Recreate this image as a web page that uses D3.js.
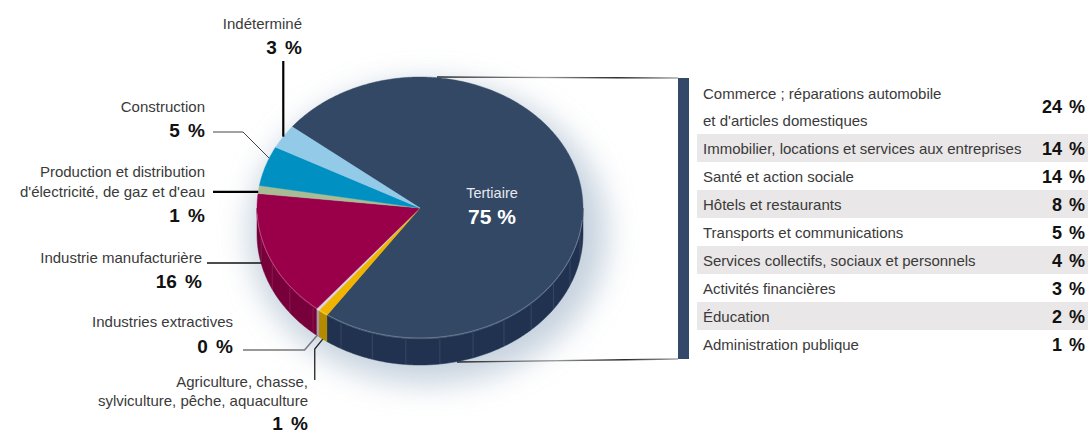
<!DOCTYPE html>
<html lang="fr">
<head>
<meta charset="utf-8">
<script src="https://cdn.jsdelivr.net/npm/d3@7/dist/d3.min.js"></script>
<style>
  html, body { margin: 0; padding: 0; background: #ffffff; }
  svg { display: block; font-family: "Liberation Sans", Arial, Helvetica, sans-serif; }
</style>
</head>
<body>
<svg id="chart" width="1088" height="433"></svg>
<script>
// Répartition des emplois par secteur d'activité
const sectors = [
  "Tertiaire",
  "Agriculture, chasse, sylviculture, pêche, aquaculture",
  "Industries extractives",
  "Industrie manufacturière",
  "Production et distribution d'électricité, de gaz et d'eau",
  "Construction",
  "Indéterminé"
];
const sectorValues = [75, 1, 0.3, 16, 1, 5, 3];

// Détail du secteur tertiaire
const tertiaryCats = [
  "Commerce ; réparations automobile|et d'articles domestiques",
  "Immobilier, locations et services aux entreprises",
  "Santé et action sociale",
  "Hôtels et restaurants",
  "Transports et communications",
  "Services collectifs, sociaux et personnels",
  "Activités financières",
  "Éducation",
  "Administration publique"
];
const tertiaryValues = [24, 14, 14, 8, 5, 4, 3, 2, 1];

const pct = v => Math.round(v) + " %";

const topColors  = ["#334865", "#f1b500", "#d9d5dd", "#990049", "#a8bd95", "#0091c2", "#92cae8"];
const sideColors = ["#213250", "#b38a00", "#a99bab", "#78003a", "#889f72", "#00739a", "#6fa9c7"];

const svg = d3.select("#chart");
const cx = 420, cy = 208, rx = 163, ry = 131, depth = 26;

const pie = d3.pie().sort(null).value(d => d)
  .startAngle(-0.902).endAngle(-0.902 + 2 * Math.PI);
const arcs = pie(sectorValues);

// angle measured clockwise from twelve o'clock, projected onto the tilted disc
const pt = (a, dy = 0) => [cx + rx * Math.sin(a), cy - ry * Math.cos(a) + dy];
const sample = (a0, a1, dy = 0) => {
  const n = Math.max(2, Math.ceil(Math.abs(a1 - a0) / 0.01));
  return d3.range(n + 1).map(i => pt(a0 + (a1 - a0) * i / n, dy));
};
const line = d3.line();

// soft halo under the disc
const defs = svg.append("defs");
defs.append("filter").attr("id", "halo").attr("x", "-30%").attr("y", "-30%")
  .attr("width", "160%").attr("height", "160%")
  .append("feGaussianBlur").attr("stdDeviation", 15);
svg.append("ellipse")
  .attr("cx", cx + 8).attr("cy", cy + depth / 2 + 12)
  .attr("rx", rx + 16).attr("ry", ry + 20)
  .attr("fill", "#aebfd0").attr("opacity", 0.7)
  .attr("filter", "url(#halo)");

// bracket linking the tertiary slice to its breakdown
const barX = 678, barW = 11, barTop = 78, barBottom = 359;
const bracketGrad = defs.append("linearGradient").attr("id", "bracketGrad")
  .attr("x1", "0%").attr("x2", "100%");
bracketGrad.append("stop").attr("offset", "0%").attr("stop-color", "#222");
bracketGrad.append("stop").attr("offset", "45%").attr("stop-color", "#9a9a9a");
bracketGrad.append("stop").attr("offset", "75%").attr("stop-color", "#222");
bracketGrad.append("stop").attr("offset", "100%").attr("stop-color", "#aaa");
svg.append("path")
  .attr("d", line([[cx + 17, cy - ry], [barX, barTop]]))
  .attr("stroke", "url(#bracketGrad)").attr("stroke-width", 1.3).attr("fill", "none");
svg.append("path")
  .attr("d", line([[cx + 37, cy + ry + depth - 3], [barX, barBottom]]))
  .attr("stroke", "url(#bracketGrad)").attr("stroke-width", 1.3).attr("fill", "none");

// side wall (front half only)
const sideG = svg.append("g");
arcs.forEach((d, i) => {
  const lo = Math.max(d.startAngle, Math.PI / 2);
  const hi = Math.min(d.endAngle, 3 * Math.PI / 2);
  if (hi <= lo) return;
  const pts = sample(lo, hi).concat(sample(hi, lo, depth));
  sideG.append("path").attr("d", line(pts) + "Z")
    .attr("fill", sideColors[i]).attr("stroke", sideColors[i]).attr("stroke-width", 0.5);
});
// faint facet seams on the wall
d3.range(101, 260, 12).forEach(deg => {
  const a = deg * Math.PI / 180;
  sideG.append("path").attr("d", line([pt(a, 1), pt(a, depth)]))
    .attr("stroke", "rgba(255,255,255,0.1)").attr("stroke-width", 1);
});

// top face
const topG = svg.append("g");
arcs.forEach((d, i) => {
  const pts = [[cx, cy]].concat(sample(d.startAngle, d.endAngle));
  topG.append("path").attr("d", line(pts) + "Z")
    .attr("fill", topColors[i]).attr("stroke", topColors[i]).attr("stroke-width", 0.4)
    .attr("stroke-linejoin", "round");
});
// light rim along the front edge
topG.append("path").attr("d", line(sample(Math.PI / 2 + 0.1, 3 * Math.PI / 2 - 0.05, -1)))
  .attr("fill", "none").attr("stroke", "rgba(255,255,255,0.35)").attr("stroke-width", 0.8);

// label inside the tertiary slice
svg.append("text").attr("x", 492).attr("y", 198).attr("text-anchor", "middle")
  .attr("fill", "#e6e9ef").attr("font-size", 14.5).text(sectors[0]);
svg.append("text").attr("x", 492).attr("y", 224).attr("text-anchor", "middle")
  .attr("fill", "#ffffff").attr("font-size", 21).attr("font-weight", "bold")
  .text(pct(sectorValues[0]));

// outside labels: text block + leader line
const labelLayout = [
  null,
  { x: 308, lines: ["Agriculture, chasse,", "sylviculture, pêche, aquaculture"], ys: [387, 406], vy: 430,
    frac: 0.5, drop: 26, leader: e => [[e[0] - 8, 380], [e[0] - 8, 349], e], stroke: "#222", sw: 1.3 },
  { x: 233, lines: ["Industries extractives"], ys: [327], vy: 353,
    frac: 0.5, drop: 25, leader: e => [[243, 350], [e[0] - 13, 350], e], stroke: "#777", sw: 1.5 },
  { x: 202, lines: ["Industrie manufacturière"], ys: [263], vy: 288,
    frac: 0.64, drop: 23, leader: e => [[207, e[1]], e], stroke: "#111", sw: 1.6 },
  { x: 205, lines: ["Production et distribution", "d'électricité, de gaz et d'eau"], ys: [177, 197], vy: 222,
    frac: 0.2, drop: 0, leader: e => [[213, e[1]], e], stroke: "#000", sw: 2.2 },
  { x: 205, lines: ["Construction"], ys: [112], vy: 137,
    frac: 0.7, drop: 0, leader: e => [[213, 132], [243, 132], e], stroke: "#444", sw: 1 },
  { x: 302, lines: ["Indéterminé"], ys: [29], vy: 54,
    frac: 0.5, drop: 0, leader: e => [[e[0], 61], e], stroke: "#000", sw: 2.2 }
];

const labG = svg.append("g");
arcs.forEach((d, i) => {
  const L = labelLayout[i];
  if (!L) return;
  const a = d.startAngle + (d.endAngle - d.startAngle) * L.frac;
  const end = pt(a, L.drop);
  labG.append("path").attr("d", line(L.leader(end)))
    .attr("fill", "none").attr("stroke", L.stroke).attr("stroke-width", L.sw);
  L.lines.forEach((t, k) => {
    labG.append("text").attr("x", L.x).attr("y", L.ys[k]).attr("text-anchor", "end")
      .attr("fill", "#3a3a3a").attr("font-size", 15).text(t);
  });
  labG.append("text").attr("x", L.x).attr("y", L.vy).attr("text-anchor", "end")
    .attr("fill", "#111").attr("font-size", 19).attr("font-weight", "bold")
    .attr("word-spacing", 3).text(pct(sectorValues[i]));
});

// breakdown table
svg.append("rect").attr("x", barX).attr("y", barTop).attr("width", barW)
  .attr("height", barBottom - barTop).attr("fill", "#34496a");

const rowSpan = tertiaryCats.map(c => c.split("|").length);
const rowH = 28;
const tbl = svg.append("g");
let y0 = barTop;
tertiaryCats.forEach((c, i) => {
  const h = rowSpan[i] * rowH;
  if (i % 2 === 1) {
    tbl.append("rect").attr("x", 697).attr("y", y0).attr("width", 1088 - 697)
      .attr("height", h).attr("fill", "#e9e7e7");
  }
  const parts = c.split("|");
  parts.forEach((p, k) => {
    const by = parts.length > 1 ? y0 + 21 + k * 27 : y0 + 20;
    tbl.append("text").attr("x", 703).attr("y", by).attr("fill", "#3a3a3a")
      .attr("font-size", 15).text(p);
  });
  tbl.append("text").attr("x", 1085).attr("y", y0 + h / 2 + 7).attr("text-anchor", "end")
    .attr("fill", "#111").attr("font-size", 18).attr("font-weight", "bold")
    .attr("word-spacing", 2).text(pct(tertiaryValues[i]));
  y0 += h;
});
</script>
</body>
</html>
